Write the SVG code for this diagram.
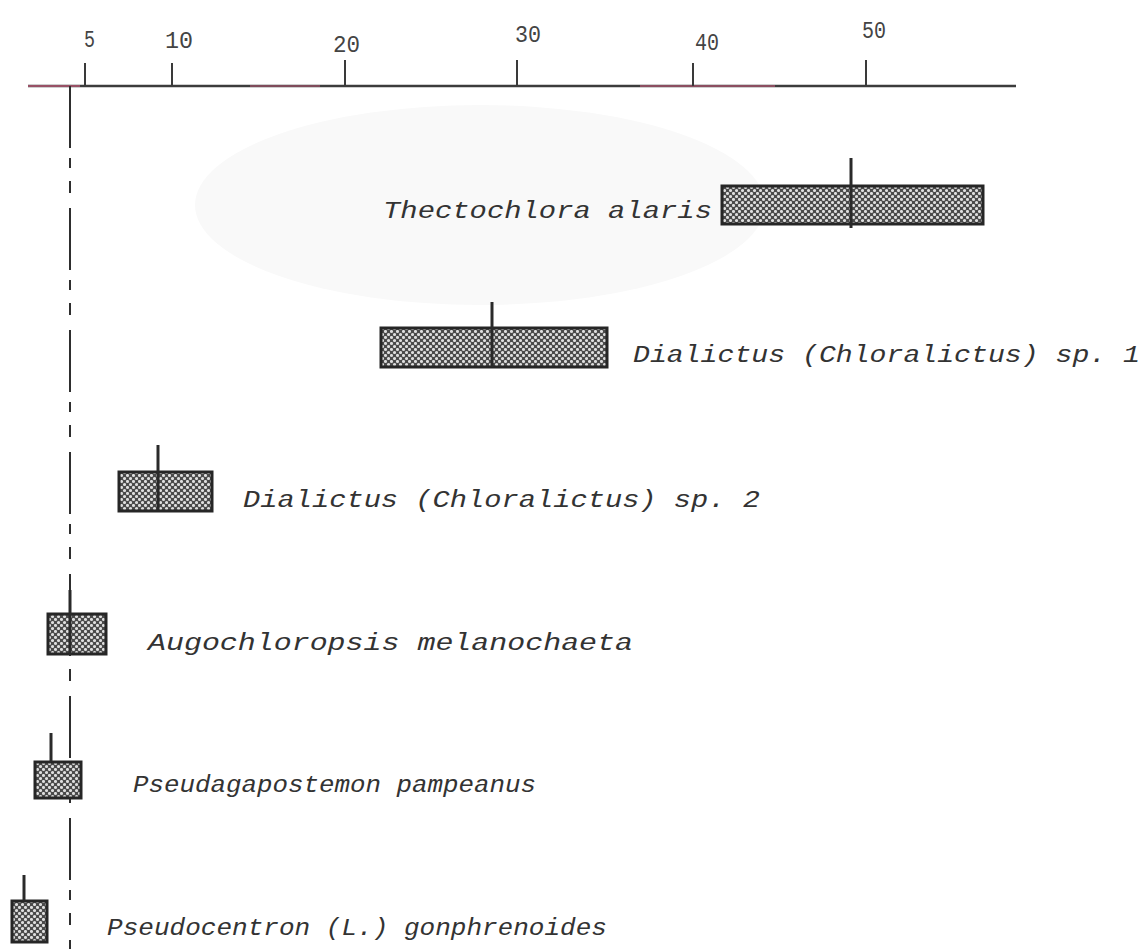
<svg xmlns="http://www.w3.org/2000/svg" width="1146" height="949" viewBox="0 0 1146 949">
<defs>
<pattern id="hatch" width="6" height="6" patternUnits="userSpaceOnUse">
<rect width="6" height="6" fill="#4a4a4a"/>
<circle cx="1.5" cy="1.5" r="1.55" fill="#dedede"/>
<circle cx="4.5" cy="4.5" r="1.55" fill="#dedede"/>
</pattern>
<style>
.box{fill:url(#hatch);stroke:#262626;stroke-width:3}
.med{stroke:#2a2a2a;stroke-width:3}
.tick{stroke:#3a3a3a;stroke-width:2}
.num{font-family:"Liberation Mono","DejaVu Sans Mono",monospace;font-size:24px;fill:#444}
.lbl{font-family:"Liberation Mono","Courier New",monospace;font-style:italic;font-size:24px;fill:#333}
</style>
</defs>
<rect width="1146" height="949" fill="#ffffff"/>
<ellipse cx="480" cy="205" rx="285" ry="100" fill="#f9f9f9"/>

<g id="axis">
<line x1="28" y1="86" x2="1016" y2="86" stroke="#3c3c3c" stroke-width="2.5"/>
<line x1="28" y1="86" x2="80" y2="86" stroke="#c05a78" stroke-width="2" opacity="0.7"/>
<line x1="250" y1="86" x2="320" y2="86" stroke="#c05a78" stroke-width="2" opacity="0.5"/>
<line x1="640" y1="86" x2="775" y2="86" stroke="#c05a78" stroke-width="2" opacity="0.6"/>
<line class="tick" x1="85" y1="63" x2="85" y2="86"/>
<line class="tick" x1="172" y1="63" x2="172" y2="86"/>
<line class="tick" x1="345" y1="60" x2="345" y2="86"/>
<line class="tick" x1="517" y1="60" x2="517" y2="86"/>
<line class="tick" x1="693" y1="63" x2="693" y2="86"/>
<line class="tick" x1="866" y1="60" x2="866" y2="86"/>
<text class="num" x="84" y="47" textLength="11" lengthAdjust="spacingAndGlyphs">5</text>
<text class="num" x="165" y="48" textLength="28" lengthAdjust="spacingAndGlyphs">10</text>
<text class="num" x="333" y="52" textLength="27" lengthAdjust="spacingAndGlyphs">20</text>
<text class="num" x="515" y="42" textLength="26" lengthAdjust="spacingAndGlyphs">30</text>
<text class="num" x="695" y="50" textLength="24" lengthAdjust="spacingAndGlyphs">40</text>
<text class="num" x="862" y="38" textLength="24" lengthAdjust="spacingAndGlyphs">50</text>
</g>

<g id="connectors">
<line x1="70" y1="86" x2="70" y2="949" stroke="#2e2e2e" stroke-width="2" stroke-dasharray="62 10 10 13 12 15"/>
</g>

<g id="thectochlora">
<rect class="box" x="722" y="186" width="261" height="38"/>
<line class="med" x1="851" y1="158" x2="851" y2="228"/>
<text class="lbl" x="383" y="218" textLength="329" lengthAdjust="spacingAndGlyphs">Thectochlora alaris</text>
</g>

<g id="dialictus1">
<rect class="box" x="381" y="328" width="226" height="39"/>
<line class="med" x1="492" y1="302" x2="492" y2="367"/>
<text class="lbl" x="633" y="362" textLength="507" lengthAdjust="spacingAndGlyphs">Dialictus (Chloralictus) sp. 1</text>
</g>

<g id="dialictus2">
<rect class="box" x="119" y="472" width="93" height="39"/>
<line class="med" x1="158" y1="445" x2="158" y2="510"/>
<text class="lbl" x="243" y="507" textLength="517" lengthAdjust="spacingAndGlyphs">Dialictus (Chloralictus) sp. 2</text>
</g>

<g id="augochloropsis">
<rect class="box" x="48" y="614" width="58" height="40"/>
<line class="med" x1="70" y1="590" x2="70" y2="655"/>
<text class="lbl" x="148" y="650" textLength="485" lengthAdjust="spacingAndGlyphs">Augochloropsis melanochaeta</text>
</g>

<g id="pseudagapostemon">
<rect class="box" x="35" y="762" width="46" height="36"/>
<line class="med" x1="51" y1="733" x2="51" y2="762"/>
<text class="lbl" x="133" y="792" textLength="403" lengthAdjust="spacingAndGlyphs">Pseudagapostemon pampeanus</text>
</g>

<g id="pseudocentron">
<rect class="box" x="12" y="901" width="35" height="41"/>
<line class="med" x1="24" y1="875" x2="24" y2="901"/>
<text class="lbl" x="107" y="935" textLength="500" lengthAdjust="spacingAndGlyphs">Pseudocentron (L.) gonphrenoides</text>
</g>
</svg>
